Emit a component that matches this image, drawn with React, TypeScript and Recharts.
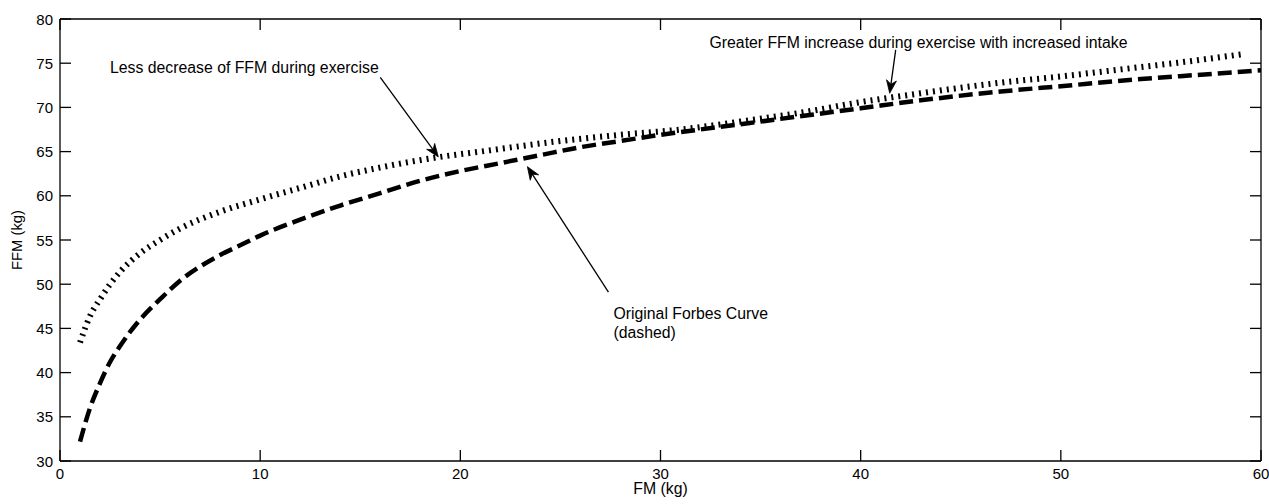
import React from "react";
import { LineChart, Line, XAxis, YAxis, ReferenceLine, ReferenceDot } from "recharts";

// Original Forbes curve (dashed)
const forbesFM = [1, 1.5, 2, 2.5, 3, 3.5, 4, 5, 6, 7, 8, 9, 10, 12, 14, 16, 18, 20, 22, 24, 26, 28, 30, 33, 36, 40, 43, 47, 50, 54, 57, 60];
const forbesFFM = [32.2, 36.0, 38.8, 41.2, 43.0, 44.6, 46.0, 48.3, 50.4, 52.0, 53.3, 54.4, 55.5, 57.3, 58.9, 60.3, 61.7, 62.8, 63.7, 64.6, 65.5, 66.2, 66.9, 67.8, 68.7, 69.9, 70.8, 71.8, 72.4, 73.2, 73.7, 74.2];

// Exercise / increased intake curve (dotted)
const exerciseFM = [1, 1.5, 2, 2.5, 3, 4, 5, 6, 8, 10, 12, 14, 16, 19, 21, 25, 28, 31, 34, 37, 40, 43, 47, 50, 53, 56, 59];
const exerciseFFM = [43.4, 46.4, 48.3, 50.0, 51.4, 53.5, 55.0, 56.3, 58.2, 59.6, 60.9, 62.2, 63.2, 64.4, 65.0, 66.2, 66.9, 67.5, 68.4, 69.4, 70.6, 71.6, 72.8, 73.5, 74.3, 75.1, 76.0];

const xTicks = [0, 10, 20, 30, 40, 50, 60];
const yTicks = [30, 35, 40, 45, 50, 55, 60, 65, 70, 75, 80];

const forbesData = forbesFM.map((x, i) => ({ x, y: forbesFFM[i] }));
const exerciseData = exerciseFM.map((x, i) => ({ x, y: exerciseFFM[i] }));

const FONT = "'Liberation Sans', Arial, Helvetica, sans-serif";
const FS = 15.8;
const TFS = 15;
const TICK_LEN = 11;

const BottomTick = (p: any) => (
  <g>
    <line x1={p.x} y1={p.y} x2={p.x} y2={p.y - TICK_LEN} stroke="#000" strokeWidth={1.3} />
    <text x={p.x} y={p.y + 18} textAnchor="middle" fontFamily={FONT} fontSize={TFS} fill="#000">
      {p.payload.value}
    </text>
  </g>
);
const TopTick = (p: any) => (
  <line x1={p.x} y1={p.y} x2={p.x} y2={p.y + TICK_LEN} stroke="#000" strokeWidth={1.3} />
);
const LeftTick = (p: any) => (
  <g>
    <line x1={p.x} y1={p.y} x2={p.x + TICK_LEN} y2={p.y} stroke="#000" strokeWidth={1.3} />
    <text x={p.x - 7} y={p.y + 5.5} textAnchor="end" fontFamily={FONT} fontSize={TFS} fill="#000">
      {p.payload.value}
    </text>
  </g>
);
const RightTick = (p: any) => (
  <line x1={p.x} y1={p.y} x2={p.x - TICK_LEN} y2={p.y} stroke="#000" strokeWidth={1.3} />
);

const Arrow = (p: any) => {
  const { x1, y1, x2, y2 } = p;
  const a = Math.atan2(y2 - y1, x2 - x1);
  const L = 13, Wd = 5, N = 9;
  const bx = x2 - L * Math.cos(a), by = y2 - L * Math.sin(a);
  const nx = x2 - N * Math.cos(a), ny = y2 - N * Math.sin(a);
  const px = -Math.sin(a) * Wd, py = Math.cos(a) * Wd;
  return (
    <g>
      <line x1={x1} y1={y1} x2={nx} y2={ny} stroke="#000" strokeWidth={1.3} />
      <polygon
        points={`${x2},${y2} ${bx + px},${by + py} ${nx},${ny} ${bx - px},${by - py}`}
        fill="#000"
        stroke="#000"
        strokeWidth={0.8}
      />
    </g>
  );
};

const makeText = (lines: string[]) => (p: any) => (
  <text x={p.cx} y={p.cy + 5.5} fontFamily={FONT} fontSize={FS} fill="#000">
    {lines.map((l, i) => (
      <tspan key={i} x={p.cx} dy={i === 0 ? 0 : 19}>
        {l}
      </tspan>
    ))}
  </text>
);

export default function App() {
  return (
    <div style={{ position: "fixed", left: 0, top: 0, width: 1269, height: 504, background: "#fff" }}>
      <LineChart width={1269} height={504} margin={{ top: 18, right: 7, bottom: 0, left: 0 }}>
        <XAxis
          dataKey="x"
          type="number"
          domain={[0, 60]}
          ticks={xTicks}
          interval={0}
          allowDataOverflow
          height={43}
          tickSize={0}
          tickMargin={0}
          tick={BottomTick}
          axisLine={{ stroke: "#000", strokeWidth: 1.3 }}
          label={{
            content: (lp: any) => (
              <text
                x={lp.viewBox.x + lp.viewBox.width / 2}
                y={lp.viewBox.y + 33}
                textAnchor="middle"
                fontFamily={FONT}
                fontSize={FS}
                fill="#000"
              >
                FM (kg)
              </text>
            ),
          }}
        />
        <XAxis
          xAxisId="t"
          orientation="top"
          dataKey="x"
          type="number"
          domain={[0, 60]}
          ticks={xTicks}
          interval={0}
          allowDataOverflow
          height={1}
          tickSize={0}
          tickMargin={0}
          tick={TopTick}
          axisLine={{ stroke: "#000", strokeWidth: 1.3 }}
        />
        <YAxis
          type="number"
          domain={[30, 80]}
          ticks={yTicks}
          interval={0}
          allowDataOverflow
          width={60}
          tickSize={0}
          tickMargin={0}
          tick={LeftTick}
          axisLine={{ stroke: "#000", strokeWidth: 1.3 }}
          label={{
            content: (lp: any) => {
              const cx = lp.viewBox.x + 22;
              const cy = lp.viewBox.y + lp.viewBox.height / 2;
              return (
                <text
                  x={cx}
                  y={cy}
                  transform={`rotate(-90, ${cx}, ${cy})`}
                  textAnchor="middle"
                  fontFamily={FONT}
                  fontSize={FS - 1}
                  fill="#000"
                >
                  FFM (kg)
                </text>
              );
            },
          }}
        />
        <YAxis
          yAxisId="r"
          orientation="right"
          type="number"
          domain={[30, 80]}
          ticks={yTicks}
          interval={0}
          allowDataOverflow
          width={1}
          tickSize={0}
          tickMargin={0}
          tick={RightTick}
          axisLine={{ stroke: "#000", strokeWidth: 1.3 }}
        />
        <Line
          data={forbesData}
          dataKey="y"
          type="monotone"
          stroke="#000"
          strokeWidth={4.5}
          strokeDasharray="14 6"
          dot={false}
          activeDot={false}
          isAnimationActive={false}
        />
        <Line
          data={exerciseData}
          dataKey="y"
          type="monotone"
          stroke="#000"
          strokeWidth={6}
          strokeDasharray="2 5"
          dot={false}
          activeDot={false}
          isAnimationActive={false}
        />
        <ReferenceLine segment={[{ x: 16, y: 73.4 }, { x: 18.9, y: 64.4 }]} shape={Arrow} ifOverflow="visible" />
        <ReferenceLine segment={[{ x: 27.4, y: 49.1 }, { x: 23.35, y: 63.3 }]} shape={Arrow} ifOverflow="visible" />
        <ReferenceLine segment={[{ x: 41.75, y: 76.5 }, { x: 41.45, y: 71.6 }]} shape={Arrow} ifOverflow="visible" />
        <ReferenceDot x={2.5} y={74.46} r={0} shape={makeText(["Less decrease of FFM during exercise"])} ifOverflow="visible" />
        <ReferenceDot
          x={32.45}
          y={77.3}
          r={0}
          shape={makeText(["Greater FFM increase during exercise with increased intake"])}
          ifOverflow="visible"
        />
        <ReferenceDot
          x={27.65}
          y={46.74}
          r={0}
          shape={makeText(["Original Forbes Curve", "(dashed)"])}
          ifOverflow="visible"
        />
      </LineChart>
    </div>
  );
}
